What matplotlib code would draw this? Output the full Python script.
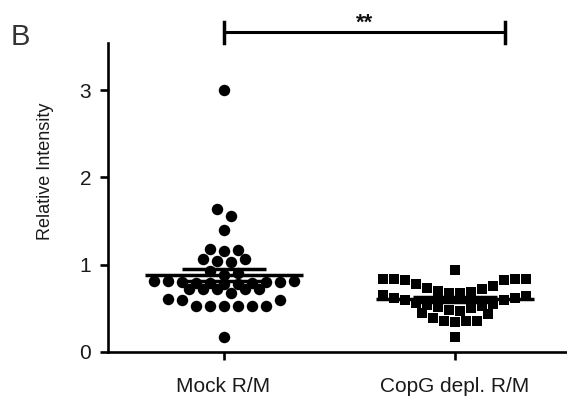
import numpy as np
import matplotlib
matplotlib.use("Agg")
import matplotlib.pyplot as plt

plt.rcParams['font.family'] = ['Liberation Sans', 'DejaVu Sans']

# Data (relative intensity per cell)
group_labels = ["Mock R/M", "CopG depl. R/M"]
mock_values = [3.00,
               1.64, 1.56,
               1.40,
               1.16, 1.17, 1.18,
               1.03, 1.04, 1.06, 1.07,
               0.88, 0.90, 0.93,
               0.78, 0.78, 0.79, 0.79, 0.79, 0.80, 0.80, 0.80, 0.81, 0.81, 0.81,
               0.67, 0.72, 0.72, 0.72, 0.72, 0.72,
               0.53, 0.53, 0.53, 0.53, 0.53, 0.53, 0.60, 0.60, 0.61,
               0.17]
copg_values = [0.94,
               0.67, 0.68, 0.69, 0.70, 0.72, 0.73, 0.76, 0.78, 0.82, 0.82, 0.83, 0.83, 0.83, 0.84,
               0.47, 0.48, 0.50, 0.51, 0.53, 0.54, 0.55, 0.56, 0.59, 0.60, 0.62, 0.62, 0.64, 0.65,
               0.34, 0.35, 0.36, 0.36, 0.39, 0.44, 0.45,
               0.17]
y_ticks = [0, 1, 2, 3]
signif_label = "**"
bracket_span = (1, 2.22)
panel_label = "B"


def row_layout(values, row_h, origin, step):
    # Prism-like scatter: bin values into rows, lowest value in the middle,
    # the rest alternating right / left
    vals = np.asarray(values, dtype=float)
    keys = np.floor((vals - origin) / row_h + 1e-9).astype(int)
    offsets = np.zeros(len(vals))
    for k in np.unique(keys):
        idx = np.where(keys == k)[0]
        idx = idx[np.argsort(vals[idx], kind="stable")]
        n = len(idx)
        for i, j in enumerate(idx):
            if n % 2:
                slot = 0 if i == 0 else ((i + 1) // 2) * (1 if i % 2 else -1)
            else:
                slot = (i // 2 + 0.5) * (1 if i % 2 == 0 else -1)
            offsets[j] = slot * step
    return offsets


fig = plt.figure(figsize=(5.67, 4.05), dpi=100)
ax = fig.add_axes([0.1905, 0.131, 0.8095, 0.763])
x_lim = (0.5, 2.487)
ax.set_xlim(*x_lim)
ax.set_ylim(0, 3.54)

# pixel -> data conversion for horizontal spacing
px_per_unit = fig.get_figwidth() * fig.dpi * 0.8095 / (x_lim[1] - x_lim[0])

mock_x = 1 + row_layout(mock_values, 0.115, 0.5, 14 / px_per_unit)
copg_x = 2 + row_layout(copg_values, 0.2, 0.26, 11 / px_per_unit)

ax.scatter(mock_x, mock_values, s=68, marker="o", color="black", linewidths=0, zorder=3)
ax.scatter(copg_x, copg_values, s=56, marker="s", color="black", linewidths=0, zorder=3)

# Mean and SEM lines
for pos, vals in zip([1, 2], [mock_values, copg_values]):
    vals = np.asarray(vals)
    mean = vals.mean()
    sem = vals.std(ddof=1) / np.sqrt(len(vals))
    ax.hlines(mean, pos - 79 / px_per_unit, pos + 79 / px_per_unit,
              color="black", linewidth=2.5, zorder=4)
    ax.hlines([mean - sem, mean + sem], pos - 42 / px_per_unit, pos + 42 / px_per_unit,
              color="black", linewidth=2.5, zorder=4)

# Significance bracket
y_br = 3.66
cap = 0.12
ax.plot(bracket_span, [y_br, y_br], color="black", linewidth=2.2, clip_on=False)
for xb in bracket_span:
    ax.plot([xb, xb], [y_br - cap, y_br + cap], color="black", linewidth=2.5, clip_on=False)
ax.text(sum(bracket_span) / 2, 3.70, signif_label, ha="center", va="baseline",
        fontsize=16, fontweight="bold", color="#111111", clip_on=False)

# Axes styling
for side in ["top", "right"]:
    ax.spines[side].set_visible(False)
for side in ["left", "bottom"]:
    ax.spines[side].set_linewidth(1.9)
ax.set_xticks([1, 2])
ax.set_xticklabels(group_labels, fontsize=15, color="#1a1a1a")
ax.set_yticks(y_ticks)
ax.set_yticklabels([str(t) for t in y_ticks], fontsize=15, color="#1a1a1a")
ax.tick_params(axis="x", length=6, width=1.9, pad=12)
ax.tick_params(axis="y", length=6, width=1.9, pad=6)

ax.set_ylabel("Relative Intensity", fontsize=13, color="#1a1a1a", va="center")
ax.yaxis.set_label_coords(-0.137, 0.586)

fig.text(0.019, 0.889, panel_label, fontsize=21, color="#333333", va="baseline")

fig.savefig("out.png", dpi=100)
